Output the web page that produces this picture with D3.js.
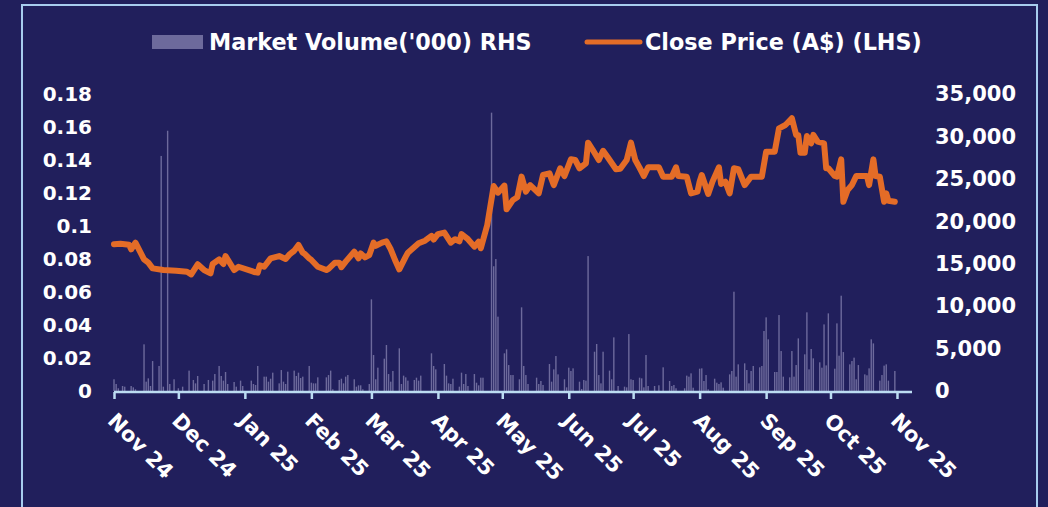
<!DOCTYPE html>
<html><head><meta charset="utf-8">
<script src="https://cdn.jsdelivr.net/npm/d3@7"></script>
<style>
html,body{margin:0;padding:0;background:#211f5c;}
svg{display:block;}
</style></head>
<body>
<svg id="chart" width="1048" height="507"></svg>
<script>
// ---------------- DATA ----------------
const priceDates = ["2024-11-01","2024-11-04","2024-11-08","2024-11-09","2024-11-11","2024-11-15","2024-11-17","2024-11-19","2024-11-24","2024-11-30",
"2024-12-05","2024-12-07","2024-12-10","2024-12-13","2024-12-16","2024-12-17","2024-12-20","2024-12-22","2024-12-23","2024-12-27","2024-12-29",
"2025-01-05","2025-01-07","2025-01-08","2025-01-10","2025-01-13","2025-01-17","2025-01-20","2025-01-22","2025-01-24","2025-01-26","2025-01-28","2025-01-29","2025-01-31",
"2025-02-01","2025-02-04","2025-02-08","2025-02-09","2025-02-12","2025-02-14","2025-02-15","2025-02-17","2025-02-21","2025-02-23","2025-02-24","2025-02-26","2025-02-28",
"2025-03-02","2025-03-03","2025-03-06","2025-03-08","2025-03-10","2025-03-12","2025-03-14","2025-03-17","2025-03-18","2025-03-23","2025-03-26","2025-03-29","2025-03-30",
"2025-04-01","2025-04-04","2025-04-07","2025-04-09","2025-04-11","2025-04-12","2025-04-15","2025-04-18","2025-04-20","2025-04-21","2025-04-24","2025-04-27","2025-04-29",
"2025-05-02","2025-05-03","2025-05-06","2025-05-08","2025-05-10","2025-05-12","2025-05-14","2025-05-18","2025-05-20","2025-05-23","2025-05-25","2025-05-28","2025-05-30",
"2025-06-02","2025-06-04","2025-06-06","2025-06-09","2025-06-10","2025-06-12","2025-06-15","2025-06-17","2025-06-19","2025-06-23","2025-06-25","2025-06-28","2025-06-30",
"2025-07-02","2025-07-04","2025-07-06","2025-07-08","2025-07-13","2025-07-15","2025-07-19","2025-07-21","2025-07-22","2025-07-26","2025-07-28","2025-07-31",
"2025-08-01","2025-08-02","2025-08-05","2025-08-07","2025-08-10","2025-08-11","2025-08-13","2025-08-15","2025-08-17","2025-08-19","2025-08-22","2025-08-25","2025-08-30",
"2025-09-01","2025-09-05","2025-09-07","2025-09-10","2025-09-13","2025-09-15","2025-09-16","2025-09-17","2025-09-19","2025-09-20","2025-09-22","2025-09-23","2025-09-25","2025-09-28","2025-09-29","2025-09-30",
"2025-10-03","2025-10-04","2025-10-06","2025-10-07","2025-10-09","2025-10-11","2025-10-13","2025-10-18","2025-10-19","2025-10-21","2025-10-22","2025-10-24","2025-10-26","2025-10-27","2025-10-28","2025-10-31"];
const priceValues = [0.089,0.0893,0.0887,0.0859,0.0899,0.0798,0.0778,0.0743,0.0733,0.0729,
0.0723,0.0707,0.0768,0.0733,0.0713,0.077,0.0798,0.077,0.0818,0.0733,0.0753,
0.0723,0.0717,0.0762,0.0753,0.0804,0.0818,0.08,0.083,0.085,0.0885,0.0838,0.083,0.0804,
0.0794,0.0753,0.0733,0.074,0.0778,0.0778,0.075,0.0784,0.0844,0.0804,0.0834,0.081,0.0824,
0.0899,0.088,0.0899,0.0907,0.0859,0.0794,0.0737,0.0814,0.0838,0.0895,0.0911,0.094,0.0918,
0.0951,0.096,0.0899,0.092,0.0907,0.0951,0.092,0.0875,0.0905,0.0865,0.1006,0.1242,0.1202,
0.1245,0.1101,0.1158,0.1174,0.1299,0.1208,0.1248,0.1198,0.1309,0.1319,0.1248,0.135,0.1303,
0.1404,0.14,0.135,0.138,0.1505,0.1465,0.14,0.1456,0.142,0.1344,0.1347,0.14,0.1505,
0.14,0.1353,0.1303,0.1356,0.1356,0.1299,0.1299,0.1356,0.1303,0.1299,0.1198,0.1208,
0.1269,0.1309,0.1194,0.1269,0.1356,0.1255,0.1269,0.1198,0.135,0.1345,0.1248,0.1299,0.1299,
0.145,0.145,0.1592,0.1612,0.1653,0.1552,0.155,0.1444,0.1444,0.1545,0.1501,0.1552,0.1511,0.1501,0.135,0.135,
0.1303,0.1299,0.1404,0.1147,0.1218,0.1248,0.1303,0.1303,0.1248,0.1404,0.1303,0.1299,0.1147,0.1198,0.1153,0.1147];

const volumeDates = ["2024-11-01","2024-11-02","2024-11-03","2024-11-05","2024-11-06","2024-11-09","2024-11-10","2024-11-11","2024-11-15","2024-11-16","2024-11-17","2024-11-18","2024-11-19","2024-11-22","2024-11-23","2024-11-24","2024-11-26","2024-11-27","2024-11-29",
"2024-12-01","2024-12-03","2024-12-06","2024-12-08","2024-12-09","2024-12-10","2024-12-13","2024-12-15","2024-12-17","2024-12-18","2024-12-20","2024-12-21","2024-12-22","2024-12-23","2024-12-24","2024-12-27","2024-12-28","2024-12-30","2024-12-31",
"2025-01-04","2025-01-05","2025-01-06","2025-01-07","2025-01-10","2025-01-11","2025-01-12","2025-01-13","2025-01-14","2025-01-17","2025-01-18","2025-01-19","2025-01-20","2025-01-21","2025-01-24","2025-01-25","2025-01-26","2025-01-27","2025-01-28","2025-01-31",
"2025-02-01","2025-02-02","2025-02-03","2025-02-04","2025-02-08","2025-02-09","2025-02-10","2025-02-11","2025-02-14","2025-02-15","2025-02-16","2025-02-17","2025-02-18","2025-02-21","2025-02-22","2025-02-23","2025-02-24","2025-02-25","2025-02-28",
"2025-03-01","2025-03-02","2025-03-03","2025-03-04","2025-03-07","2025-03-08","2025-03-09","2025-03-10","2025-03-11","2025-03-14","2025-03-15","2025-03-16","2025-03-17","2025-03-18","2025-03-21","2025-03-22","2025-03-23","2025-03-24","2025-03-29","2025-03-30","2025-03-31",
"2025-04-04","2025-04-05","2025-04-06","2025-04-07","2025-04-08","2025-04-11","2025-04-12","2025-04-13","2025-04-14","2025-04-15","2025-04-18","2025-04-19","2025-04-20","2025-04-21","2025-04-22","2025-04-26","2025-04-27","2025-04-28","2025-04-29",
"2025-05-02","2025-05-03","2025-05-04","2025-05-05","2025-05-06","2025-05-09","2025-05-10","2025-05-11","2025-05-12","2025-05-13","2025-05-17","2025-05-18","2025-05-19","2025-05-20","2025-05-23","2025-05-24","2025-05-25","2025-05-26","2025-05-27","2025-05-30","2025-05-31",
"2025-06-01","2025-06-02","2025-06-03","2025-06-06","2025-06-07","2025-06-08","2025-06-09","2025-06-10","2025-06-13","2025-06-14","2025-06-15","2025-06-16","2025-06-17","2025-06-20","2025-06-21","2025-06-22","2025-06-24","2025-06-27","2025-06-28","2025-06-29","2025-06-30",
"2025-07-01","2025-07-04","2025-07-05","2025-07-06","2025-07-07","2025-07-08","2025-07-11","2025-07-13","2025-07-15","2025-07-18","2025-07-19","2025-07-20","2025-07-21","2025-07-25","2025-07-26","2025-07-27","2025-07-28","2025-07-29",
"2025-08-01","2025-08-02","2025-08-03","2025-08-04","2025-08-05","2025-08-08","2025-08-09","2025-08-10","2025-08-11","2025-08-12","2025-08-15","2025-08-16","2025-08-17","2025-08-18","2025-08-19","2025-08-22","2025-08-23","2025-08-24","2025-08-25","2025-08-26","2025-08-29","2025-08-30","2025-08-31",
"2025-09-01","2025-09-02","2025-09-05","2025-09-06","2025-09-07","2025-09-08","2025-09-09","2025-09-12","2025-09-13","2025-09-14","2025-09-15","2025-09-16","2025-09-19","2025-09-20","2025-09-21","2025-09-22","2025-09-23","2025-09-26","2025-09-27","2025-09-28","2025-09-29","2025-09-30",
"2025-10-03","2025-10-04","2025-10-05","2025-10-06","2025-10-07","2025-10-10","2025-10-11","2025-10-12","2025-10-13","2025-10-14","2025-10-17","2025-10-18","2025-10-19","2025-10-20","2025-10-21","2025-10-24","2025-10-25","2025-10-26","2025-10-27","2025-10-28","2025-10-31"];
const volumeValues = [1380,825,320,590,510,590,430,200,5500,1100,1490,590,3530,2950,27700,510,30670,825,1380,
320,510,2400,1300,900,1770,825,1300,1220,2000,2950,1770,1220,2240,825,1060,510,1220,590,
1220,825,710,2950,1690,1690,1100,1450,2160,900,2470,1100,825,2280,2400,1770,2160,1530,1690,2950,
980,900,900,1610,1610,1880,2400,200,1300,1450,900,1690,1880,1380,510,670,670,200,825,
10800,4240,1380,2750,3810,5420,2000,1100,2360,5030,825,1810,1610,1220,1300,1570,1220,1810,4440,2950,2550,
3180,1810,900,825,1450,510,2160,825,2000,590,2000,980,670,1570,1570,32800,14700,15550,8760,
4440,4910,3060,1880,1880,1380,9860,2950,1880,825,1570,825,1180,710,3180,1100,2550,4120,1960,1380,430,
2750,2360,2670,1100,240,1300,1220,15900,4630,5540,1880,900,4630,2400,1380,6320,590,510,430,6710,1380,
1300,1570,1490,430,4240,590,590,670,2790,1180,590,710,320,320,1810,1690,2080,390,
2630,2670,1180,1880,200,1450,980,825,1020,390,1960,2360,11700,1690,3140,3260,2470,900,2360,2950,2790,2950,7070,
8680,6090,2240,2240,8950,4710,1690,1610,4710,1690,3060,6200,4320,9270,2550,4950,3850,3380,2750,7850,3020,9150,
2630,7970,4160,11230,4590,3140,3530,3930,1380,3060,1960,1850,2670,6090,5610,1220,1880,2990,3140,1220,2360];

const leftTicks = [0,0.02,0.04,0.06,0.08,0.1,0.12,0.14,0.16,0.18];
const leftTickLabels = ["0","0.02","0.04","0.06","0.08","0.1","0.12","0.14","0.16","0.18"];
const rightTicks = [0,5000,10000,15000,20000,25000,30000,35000];
const rightTickLabels = ["0","5,000","10,000","15,000","20,000","25,000","30,000","35,000"];
const monthTickDates = ["2024-11-01","2024-12-01","2025-01-01","2025-02-01","2025-03-01","2025-04-01","2025-05-01","2025-06-01","2025-07-01","2025-08-01","2025-09-01","2025-10-01","2025-11-01"];
const monthTickLabels = ["Nov 24","Dec 24","Jan 25","Feb 25","Mar 25","Apr 25","May 25","Jun 25","Jul 25","Aug 25","Sep 25","Oct 25","Nov 25"];
const legendLabels = ["Market Volume('000) RHS","Close Price (A$) (LHS)"];

// ---------------- DRAW ----------------
const parse = d3.utcParse("%Y-%m-%d");
const svg = d3.select("#chart");
const W = 1048, H = 507;
const bg = "#211f5c", border = "#a8cdef", axisCol = "#bcdcf2", orange = "#e46c27", volCol = "#6d6a9c";
const font = "'DejaVu Sans', sans-serif";

svg.append("rect").attr("x",0).attr("y",0).attr("width",W).attr("height",H).attr("fill",bg);
svg.append("rect").attr("x",22).attr("y",5).attr("width",1015).attr("height",520)
  .attr("fill","none").attr("stroke",border).attr("stroke-width",2);

const x = d3.scaleUtc().domain([parse("2024-11-01"), parse("2025-11-08")]).range([114, 912]);
const yL = d3.scaleLinear().domain([0,0.18]).range([391,94]);
const yR = d3.scaleLinear().domain([0,35000]).range([391,94]);

// volume bars
const vol = volumeDates.map((d,i)=>({date:parse(d), v:volumeValues[i]}));
svg.append("g").selectAll("rect").data(vol).join("rect")
  .attr("x", d=>x(d.date)-0.7).attr("width",1.4)
  .attr("y", d=>yR(d.v)).attr("height", d=>yR(0)-yR(d.v))
  .attr("fill", volCol);

// price line
const price = priceDates.map((d,i)=>({date:parse(d), p:priceValues[i]}));
svg.append("path").datum(price)
  .attr("d", d3.line().x(d=>x(d.date)).y(d=>yL(d.p)))
  .attr("fill","none").attr("stroke",orange).attr("stroke-width",6)
  .attr("stroke-linejoin","round").attr("stroke-linecap","round");

// x axis
const xAxis = d3.axisBottom(x)
  .tickValues(monthTickDates.map(parse))
  .tickFormat((d,i)=>monthTickLabels[i])
  .tickSize(7).tickSizeOuter(0);
const gx = svg.append("g").attr("transform","translate(0,392)").call(xAxis);
gx.select(".domain").attr("stroke",axisCol).attr("stroke-width",2.5)
  .attr("d","M114,0H912");
gx.selectAll(".tick line").attr("stroke",axisCol).attr("stroke-width",2.5);
gx.selectAll(".tick text")
  .attr("fill","#ffffff").attr("font-family",font).attr("font-weight",700).attr("font-size",21)
  .attr("text-anchor","start").attr("dy",null).attr("y",0)
  .attr("transform","translate(-8,30) rotate(45)");

// left axis
const yAxisL = d3.axisLeft(yL).tickValues(leftTicks).tickFormat((d,i)=>leftTickLabels[i]).tickSize(0);
const gl = svg.append("g").attr("transform","translate(100,0)").call(yAxisL);
gl.select(".domain").remove();
gl.selectAll(".tick text").attr("fill","#ffffff").attr("font-family",font)
  .attr("font-weight",700).attr("font-size",20).attr("x",-8);

// right axis
const yAxisR = d3.axisRight(yR).tickValues(rightTicks).tickFormat((d,i)=>rightTickLabels[i]).tickSize(0);
const gr = svg.append("g").attr("transform","translate(927,0)").call(yAxisR);
gr.select(".domain").remove();
gr.selectAll(".tick text").attr("fill","#ffffff").attr("font-family",font)
  .attr("font-weight",700).attr("font-size",21).attr("x",8);

// legend
const lg = svg.append("g");
lg.append("rect").attr("x",152).attr("y",35).attr("width",51).attr("height",14).attr("fill",volCol);
lg.append("text").attr("x",209).attr("y",50).text(legendLabels[0])
  .attr("fill","#fff").attr("font-family",font).attr("font-weight",700).attr("font-size",22.3);
lg.append("line").attr("x1",587).attr("x2",640).attr("y1",42).attr("y2",42)
  .attr("stroke",orange).attr("stroke-width",5).attr("stroke-linecap","round");
lg.append("text").attr("x",645).attr("y",50).text(legendLabels[1])
  .attr("fill","#fff").attr("font-family",font).attr("font-weight",700).attr("font-size",22.3);
</script>
</body></html>
